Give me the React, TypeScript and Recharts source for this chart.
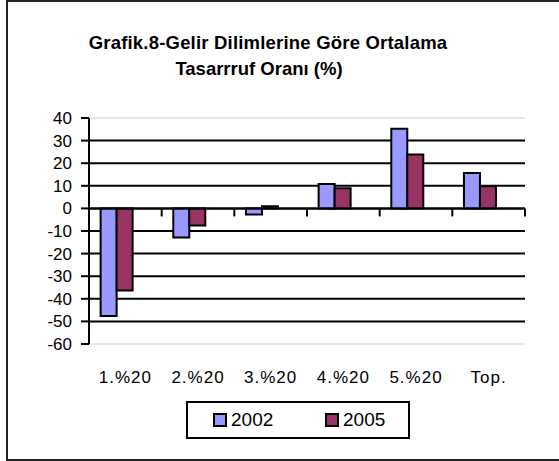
import React from "react";
import {
  BarChart,
  Bar,
  XAxis,
  YAxis,
  CartesianGrid,
  ReferenceLine,
} from "recharts";

const categories = ["1.%20", "2.%20", "3.%20", "4.%20", "5.%20", "Top."];
const values2002 = [-47.6, -12.9, -2.7, 10.8, 35.2, 15.7];
const values2005 = [-36.3, -7.6, 0.9, 8.9, 23.9, 9.8];
const yTicks = [-60, -50, -40, -30, -20, -10, 0, 10, 20, 30, 40];

const series = [
  { key: "y2002", name: "2002", color: "#9999FF" },
  { key: "y2005", name: "2005", color: "#993366" },
];

const data = categories.map((cat, i) => ({
  cat,
  y2002: values2002[i],
  y2005: values2005[i],
}));

const FONT = '"Liberation Sans", Arial, sans-serif';
const W = 559;
const H = 461;
const PLOT_TOP = 118;
const PLOT_BOTTOM = 344;
const PLOT_LEFT = 89;
const PLOT_RIGHT = 525;
const Y_MIN = yTicks[0];
const Y_MAX = yTicks[yTicks.length - 1];
const ZERO_Y =
  PLOT_TOP + ((Y_MAX - 0) / (Y_MAX - Y_MIN)) * (PLOT_BOTTOM - PLOT_TOP);
const BAND = (PLOT_RIGHT - PLOT_LEFT) / categories.length;

// category labels at the bottom, boundary ticks hanging from the zero line
const CatTick = (props: any) => {
  const { x, payload, index } = props;
  const half = BAND / 2;
  return (
    <g>
      <line x1={x - half} x2={x - half} y1={ZERO_Y} y2={ZERO_Y + 8} stroke="#000" strokeWidth={2} />
      {index === categories.length - 1 && (
        <line x1={x + half} x2={x + half} y1={ZERO_Y} y2={ZERO_Y + 8} stroke="#000" strokeWidth={2} />
      )}
      <text
        x={x}
        y={383}
        textAnchor="middle"
        fill="#000"
        fontSize={17}
        fontFamily={FONT}
        letterSpacing={1}
      >
        {payload.value}
      </text>
    </g>
  );
};

const gridLine = (props: any) => {
  const { x1, x2, y1, y2, index } = props;
  const edge = Math.abs(y1 - PLOT_TOP) < 1 || Math.abs(y1 - PLOT_BOTTOM) < 1;
  return (
    <line
      key={`g-${index}`}
      x1={x1}
      x2={x2}
      y1={y1}
      y2={y2}
      stroke={edge ? "#d0d0d0" : "#000"}
      strokeWidth={edge ? 1 : 2}
    />
  );
};

const App = () => {
  return (
    <div style={{ position: "absolute", left: 0, top: 0, width: W, height: H, background: "#fff" }}>
      <div
        style={{
          position: "absolute",
          left: 6,
          top: 0,
          width: W,
          height: 457,
          borderTop: "2px solid #222",
          borderLeft: "2px solid #222",
          borderBottom: "2px solid #222",
        }}
      />
      <div
        style={{
          position: "absolute",
          left: 0,
          top: 30,
          width: 536,
          textAlign: "center",
          fontFamily: FONT,
          fontWeight: "bold",
          fontSize: 18.5,
          lineHeight: "26px",
          color: "#000",
        }}
      >
        <div style={{ letterSpacing: 0.2 }}>Grafik.8-Gelir Dilimlerine Göre Ortalama</div>
        <div style={{ paddingRight: 18 }}>Tasarrruf Oranı (%)</div>
      </div>
      <div style={{ position: "absolute", left: 0, top: 0 }}>
        <BarChart
          width={W}
          height={H}
          data={data}
          margin={{ top: PLOT_TOP, right: W - PLOT_RIGHT, left: PLOT_LEFT - 60, bottom: H - PLOT_BOTTOM - 30 }}
          barCategoryGap="16%"
          barGap={0}
        >
          <CartesianGrid vertical={false} horizontal={gridLine} />
          <XAxis dataKey="cat" height={30} axisLine={false} tickLine={false} tick={<CatTick />} interval={0} />
          <YAxis
            width={60}
            domain={[Y_MIN, Y_MAX]}
            ticks={yTicks}
            interval={0}
            axisLine={{ stroke: "#000", strokeWidth: 2 }}
            tickLine={{ stroke: "#000", strokeWidth: 2 }}
            tickSize={8}
            tickMargin={9}
            tick={{ fill: "#000", fontSize: 17, fontFamily: FONT }}
          />
          {series.map((s) => (
            <Bar
              key={s.key}
              dataKey={s.key}
              name={s.name}
              fill={s.color}
              stroke="#000"
              strokeWidth={2}
              isAnimationActive={false}
            />
          ))}
          {/* third, empty slot that the original chart reserves in each group */}
          <Bar dataKey="unused" legendType="none" isAnimationActive={false} />
          <ReferenceLine y={0} stroke="#000" strokeWidth={2} />
        </BarChart>
      </div>
      <div
        style={{
          position: "absolute",
          left: 186,
          top: 401,
          width: 220,
          height: 34,
          border: "2px solid #000",
          fontFamily: FONT,
          fontSize: 19,
          color: "#000",
        }}
      >
        {series.map((s, i) => (
          <div
            key={s.key}
            style={{
              position: "absolute",
              left: 25 + i * 112,
              top: 6,
              display: "flex",
              alignItems: "center",
              lineHeight: "22px",
            }}
          >
            <span
              style={{
                display: "inline-block",
                width: 10,
                height: 10,
                background: s.color,
                border: "2px solid #000",
                marginRight: 4,
              }}
            />
            <span>{s.name}</span>
          </div>
        ))}
      </div>
    </div>
  );
};

export default App;
